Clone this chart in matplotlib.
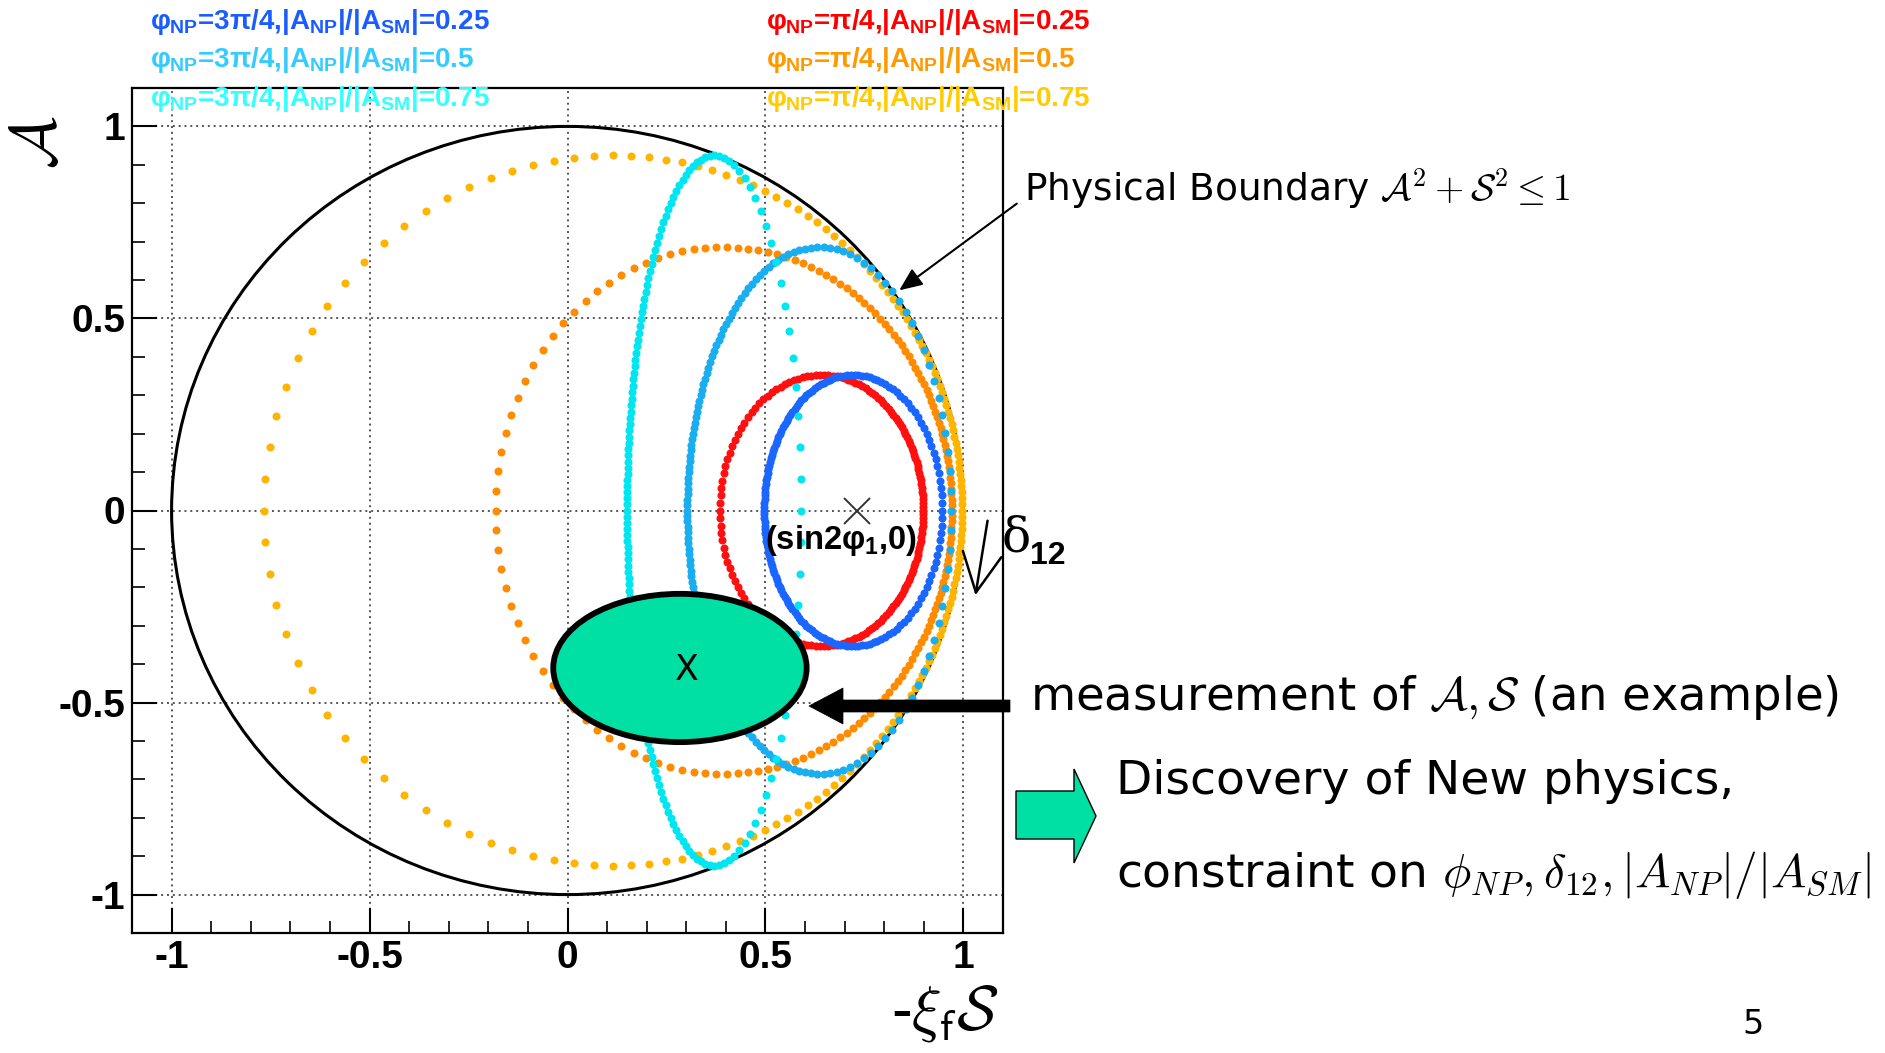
import numpy as np
import matplotlib
matplotlib.use("Agg")
import matplotlib.pyplot as plt
from matplotlib.patches import Ellipse, Circle, Polygon
from matplotlib.ticker import MultipleLocator

sin2phi1 = 0.73                       # position of the SM point (sin2phi1, 0)
phi_np = [np.pi / 4, np.pi / 4, np.pi / 4, 3 * np.pi / 4, 3 * np.pi / 4, 3 * np.pi / 4]
phi_np_text = ["π/4", "π/4", "π/4", "3π/4", "3π/4", "3π/4"]
ratio = [0.25, 0.5, 0.75, 0.25, 0.5, 0.75]   # |A_NP|/|A_SM|
n_delta = 160                          # number of delta_12 points per curve
curve_colors = ["#ff1010", "#ff8c00", "#ffb400", "#1a66ff", "#19aef0", "#00e6f0"]
legend_colors = ["#ff0000", "#ff9900", "#ffcc00", "#1a5cff", "#33ccff", "#33ffff"]
meas_center = (0.284, -0.41)           # example measurement (S, A)
meas_halfwidth = (0.32, 0.193)
xticks = [-1, -0.5, 0, 0.5, 1]
xtick_labels = ["-1", "-0.5", "0", "0.5", "1"]
yticks = [-1, -0.5, 0, 0.5, 1]
ytick_labels = ["-1", "-0.5", "0", "0.5", "1"]

plt.rcParams["mathtext.fontset"] = "custom"
plt.rcParams["mathtext.rm"] = "Liberation Sans:bold"
plt.rcParams["mathtext.it"] = "Liberation Sans:bold"
plt.rcParams["mathtext.bf"] = "Liberation Sans:bold"
plt.rcParams["mathtext.sf"] = "Liberation Sans:bold"

W, H = 1885, 1053
def fx(x):
    return x / W
def fy(y):
    return 1 - y / H

fig = plt.figure(figsize=(W / 100, H / 100), dpi=100)
ax = fig.add_axes([132 / W, 1 - 933 / H, (1003 - 132) / W, (933 - 88) / H])
ax.set_xlim(-1.1, 1.1)
ax.set_ylim(-1.1, 1.1)

# grid / ticks in ROOT style
ax.set_xticks(xticks)
ax.set_xticklabels(xtick_labels)
ax.set_yticks(yticks)
ax.set_yticklabels(ytick_labels)
ax.xaxis.set_minor_locator(MultipleLocator(0.1))
ax.yaxis.set_minor_locator(MultipleLocator(0.1))
ax.tick_params(which="major", direction="in", length=18, width=1.5, top=False, right=False,
               labelsize=28, pad=5)
ax.tick_params(which="minor", direction="in", length=9, width=1.2, top=False, right=False)
for lab in ax.get_xticklabels() + ax.get_yticklabels():
    lab.set_fontfamily("Liberation Sans")
    lab.set_fontweight("bold")
ax.grid(True, which="major", color="#555555", linewidth=1.4, linestyle=(0, (1, 2)))
for sp in ax.spines.values():
    sp.set_linewidth(1.6)

# physical boundary
ax.add_patch(Circle((0, 0), 1.0, fill=False, ec="black", lw=2.2, zorder=2))

# new-physics curves as function of the strong phase delta_12
two_phi1 = np.arcsin(sin2phi1)
delta = np.linspace(0, 2 * np.pi, n_delta, endpoint=False)
for ph, r, col in zip(phi_np, ratio, curve_colors):
    amp = 1 + r * np.exp(1j * (delta + ph))
    amp_bar = 1 + r * np.exp(1j * (delta - ph))
    lam = np.exp(-1j * two_phi1) * amp_bar / amp
    absl2 = np.abs(lam) ** 2
    S = -2 * np.imag(lam) / (1 + absl2)
    A = (np.abs(amp) ** 2 - np.abs(amp_bar) ** 2) / (np.abs(amp) ** 2 + np.abs(amp_bar) ** 2)
    ax.plot(S, A, "o", ms=5.8, mew=0, color=col, zorder=3)

# SM point
ax.plot([sin2phi1], [0], marker="x", ms=19, mew=1.4, color="#333333", zorder=6)

# example measurement
ax.add_patch(Ellipse(meas_center, 2 * meas_halfwidth[0], 2 * meas_halfwidth[1],
                     fc="#00e0a4", ec="black", lw=4.2, zorder=5))
fig.text(fx(687), fy(670), "X", fontsize=25, family="DejaVu Sans",
         ha="center", va="center", zorder=6)

# axis titles
fig.text(fx(38), fy(142), r"$\mathcal{A}$", rotation=90, fontsize=46, math_fontfamily="cm",
         ha="center", va="center")
fig.text(fx(945), fy(1013), "-" + r"$\xi_{\mathsf{f}}\mathcal{S}$", fontsize=45,
         family="Liberation Sans", math_fontfamily="cm", ha="center", va="center")

# legend texts
left_x, right_x = 150, 766
rows_y = [22, 60, 99]
for i, (ph_t, r, col) in enumerate(zip(phi_np_text, ratio, legend_colors)):
    xpos = right_x if i < 3 else left_x
    ypos = rows_y[i % 3]
    s = r"$φ_{NP}$=" + ph_t + r",|A$_{NP}$|/|A$_{SM}$|=" + f"{r:g}"
    fig.text(fx(xpos), fy(ypos), s, color=col, fontsize=20, family="Liberation Sans",
             fontweight="bold", ha="left", va="center", zorder=10)

# (sin2phi1, 0) label
fig.text(fx(841), fy(540), r"(sin2$φ_{1}$,0)", fontsize=23.5, family="Liberation Sans",
         fontweight="bold", ha="center", va="center", zorder=7)

# delta_12 arrow and label
fig.add_artist(matplotlib.patches.FancyArrowPatch(
    (fx(988), fy(518)), (fx(975), fy(598)), transform=fig.transFigure,
    arrowstyle="->,head_length=1.4,head_width=0.7", mutation_scale=20, lw=1.8, color="black"))
fig.text(fx(1002), fy(538), "δ", fontsize=35, family="DejaVu Serif", ha="left", va="center")
fig.text(fx(1030), fy(556), "12", fontsize=23, family="Liberation Sans", fontweight="bold",
         ha="left", va="center")

# physical boundary annotation
slide_font = "DejaVu Sans"
fig.text(fx(1024), fy(189), "Physical Boundary " + r"$\mathcal{A}^2+\mathcal{S}^2\leq1$",
         fontsize=27, family=slide_font, math_fontfamily="cm", ha="left", va="center")
fig.add_artist(matplotlib.patches.FancyArrowPatch(
    (fx(1019), fy(202)), (fx(897), fy(292)), transform=fig.transFigure,
    arrowstyle="-|>,head_length=0.7,head_width=0.3", mutation_scale=20, lw=1.5, color="black"))

# measurement annotation with big arrow
fig.add_artist(Polygon([(fx(1010), fy(700)), (fx(843), fy(700)), (fx(843), fy(688)),
                        (fx(809), fy(706)), (fx(843), fy(724)), (fx(843), fy(712)),
                        (fx(1010), fy(712))], closed=True, transform=fig.transFigure,
                       fc="black", ec="black", lw=0.5))
fig.text(fx(1030), fy(697), r"measurement of $\mathcal{A}, \mathcal{S}$ (an example)",
         fontsize=33.5, family=slide_font, math_fontfamily="cm", ha="left", va="center")

# green block arrow
fig.add_artist(Polygon([(fx(1016), fy(791)), (fx(1074), fy(791)), (fx(1074), fy(769)),
                        (fx(1096), fy(816)), (fx(1074), fy(863)), (fx(1074), fy(839)),
                        (fx(1016), fy(839))], closed=True, transform=fig.transFigure,
                       fc="#00e0a4", ec="black", lw=1.0))
fig.text(fx(1116), fy(781), "Discovery of New physics,", fontsize=34, family=slide_font,
         ha="left", va="center")
fig.text(fx(1116), fy(875), r"constraint on $\phi_{NP}, \delta_{12}, |A_{NP}|/|A_{SM}|$",
         fontsize=34, family=slide_font, math_fontfamily="cm", ha="left", va="center")

fig.text(fx(1753), fy(1024), "5", fontsize=24, family=slide_font, ha="center", va="center")

fig.savefig("out.png", dpi=100)
